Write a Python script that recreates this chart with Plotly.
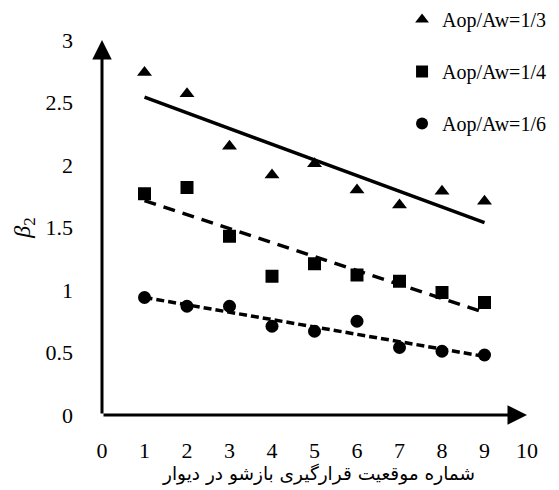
import numpy as np
import plotly.graph_objects as go

positions = [1, 2, 3, 4, 5, 6, 7, 8, 9]
beta_1_3 = [2.74, 2.57, 2.15, 1.92, 2.01, 1.80, 1.68, 1.79, 1.71]
beta_1_4 = [1.77, 1.82, 1.43, 1.11, 1.21, 1.12, 1.07, 0.98, 0.90]
beta_1_6 = [0.94, 0.87, 0.87, 0.71, 0.67, 0.75, 0.54, 0.51, 0.48]
series_names = ["Aop/Aw=1/3", "Aop/Aw=1/4", "Aop/Aw=1/6"]
x_ticks = [0, 1, 2, 3, 4, 5, 6, 7, 8, 9, 10]
y_ticks = [0, 0.5, 1, 1.5, 2, 2.5, 3]
x_title = "شماره موقعیت قرارگیری بازشو در دیوار"
y_title = "<i>β</i><sub>2</sub>"

FONT = "Liberation Serif, Times New Roman, DejaVu Serif, DejaVu Sans"

series = [
    (beta_1_3, series_names[0], "triangle-up", "solid"),
    (beta_1_4, series_names[1], "square", "12px,8px"),
    (beta_1_6, series_names[2], "circle", "8px,4px"),
]

fig = go.Figure()
xs = np.array(positions, dtype=float)
for i, (vals, name, sym, dash) in enumerate(series):
    fig.add_trace(go.Scatter(
        x=positions, y=vals, mode="markers", name=name,
        legendgroup=f"g{i}",
        marker=dict(symbol=sym, size=13, color="black"),
        cliponaxis=False,
    ))
    slope, intercept = np.polyfit(xs, np.array(vals), 1)
    fit_x = [positions[0], positions[-1]]
    fit_y = [intercept + slope * v for v in fit_x]
    fig.add_trace(go.Scatter(
        x=fit_x, y=fit_y, mode="lines", showlegend=False,
        line=dict(color="black", width=3.5, dash=dash),
        hoverinfo="skip",
    ))

# axes drawn as arrows
fig.add_annotation(x=10, y=0, ax=0, ay=0, xref="x", yref="y", axref="x", ayref="y",
                   showarrow=True, arrowhead=2, arrowsize=1.3, arrowwidth=3,
                   arrowcolor="black", text="", standoff=0, startstandoff=0)
fig.add_annotation(x=0, y=3, ax=0, ay=0, xref="x", yref="y", axref="x", ayref="y",
                   showarrow=True, arrowhead=2, arrowsize=1.3, arrowwidth=3,
                   arrowcolor="black", text="", standoff=0, startstandoff=0)
# x-axis title (Persian)
fig.add_annotation(x=0.51, y=-0.157, xref="paper", yref="paper",
                   xanchor="center", yanchor="middle", showarrow=False,
                   text=x_title, font=dict(family="DejaVu Sans", size=18.5, color="black"))

fig.update_layout(
    width=559, height=490,
    margin=dict(l=102, r=32, t=40, b=75, autoexpand=False),
    paper_bgcolor="white", plot_bgcolor="white",
    font=dict(family=FONT, color="black", size=22),
    showlegend=True,
    legend=dict(
        x=0.706, y=1.0, xref="paper", yref="container", xanchor="left", yanchor="top",
        font=dict(family=FONT, size=20, color="black"),
        tracegroupgap=23, bgcolor="rgba(0,0,0,0)",
        itemsizing="constant",
    ),
)
fig.update_xaxes(
    range=[0, 10], tickvals=x_ticks, ticktext=[str(v) for v in x_ticks],
    showgrid=False, zeroline=False, showline=False, ticks="", automargin=False,
    ticklabelstandoff=20, tickfont=dict(family=FONT, size=22),
)
fig.update_yaxes(
    range=[0, 3], tickvals=y_ticks, ticktext=[str(v) for v in y_ticks],
    showgrid=False, zeroline=False, showline=False, ticks="", automargin=False,
    ticklabelstandoff=28, tickfont=dict(family=FONT, size=22),
    title=dict(text=y_title, font=dict(family=FONT, size=24), standoff=8),
)

fig.write_html("out.html", config={"displayModeBar": False},
               post_script="document.body.style.margin='0px';")
